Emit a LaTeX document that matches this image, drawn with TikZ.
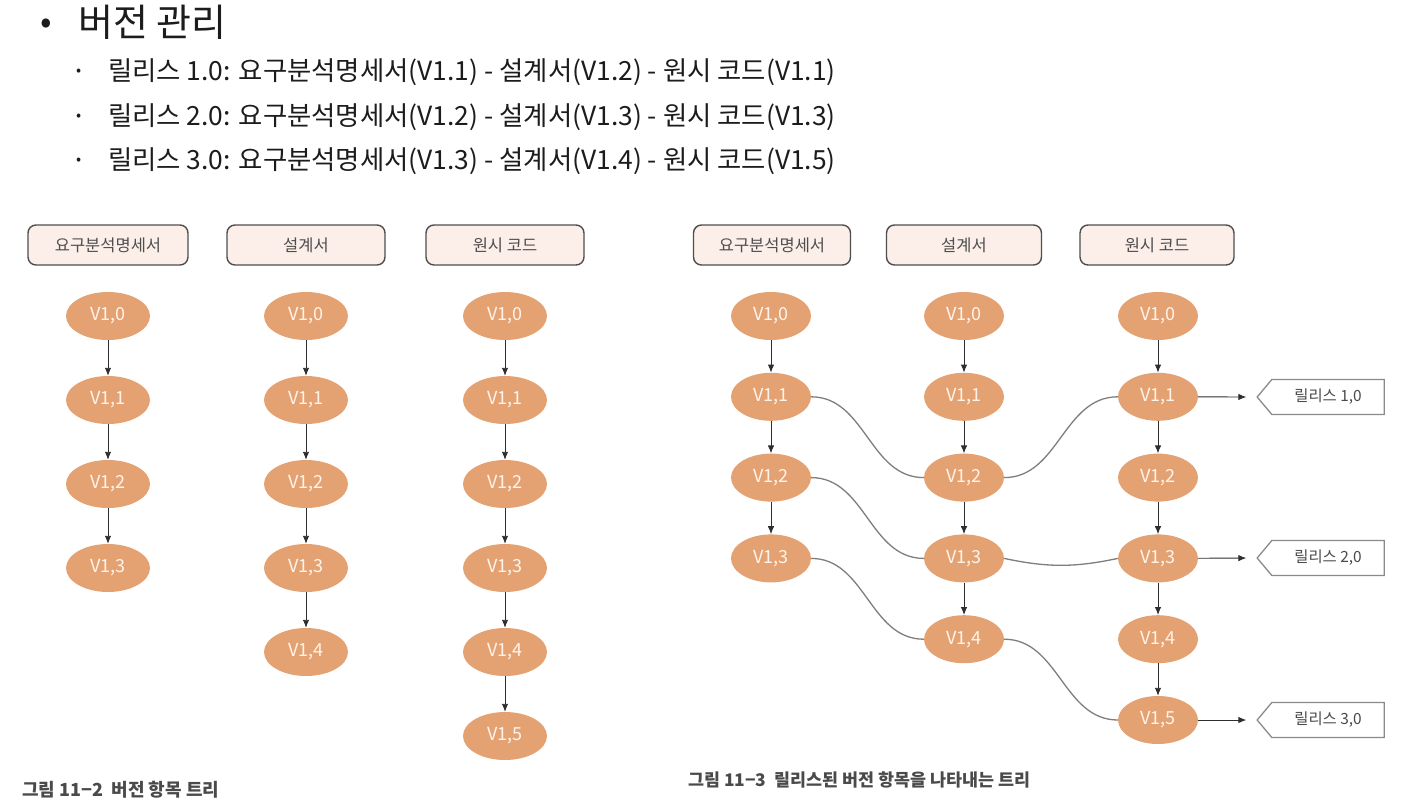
\documentclass[tikz,border=0pt]{standalone}
\usepackage{fontspec}
\setmainfont{Noto Sans CJK KR}
\usetikzlibrary{arrows.meta,shapes.geometric,shapes.symbols}

\definecolor{verfill}{HTML}{E4A272}
\definecolor{vertext}{HTML}{FFF4EC}
\definecolor{hdrfill}{HTML}{FCEFE9}
\definecolor{hdrline}{HTML}{4E4E4E}
\definecolor{linkgray}{HTML}{7E7E7E}
\definecolor{arrowdark}{HTML}{2E2E2E}
\definecolor{tagline}{HTML}{8A8A8A}
\definecolor{bodytext}{HTML}{1C1C1C}
\definecolor{captext}{HTML}{4A4A4A}

\begin{document}
\begin{tikzpicture}[x=1pt,y=-1pt,
  ver/.style={ellipse, fill=verfill, text=vertext, minimum width=84pt,
    minimum height=48pt, inner sep=0pt, font=\fontsize{18}{18}\selectfont},
  rver/.style={ver, minimum width=80pt},
  hdr/.style={draw=hdrline, line width=1.4pt, rounded corners=8pt, fill=hdrfill,
    minimum height=40pt, inner sep=0pt, text=hdrline,
    font=\fontsize{16.5}{16.5}\selectfont},
  down/.style={-{Latex[length=8pt,width=6.5pt]}, draw=arrowdark, line width=0.9pt},
  link/.style={draw=linkgray, line width=1.3pt},
  tagbox/.style={signal, signal to=west, signal pointer angle=100, draw=tagline,
    line width=1.3pt, fill=white, minimum width=127pt, minimum height=35pt,
    inner sep=0pt, text=captext, font=\fontsize{15.4}{15.4}\selectfont},
  bigtext/.style={anchor=west, inner sep=0pt, text=bodytext, font=\fontsize{38}{38}\selectfont},
  subtext/.style={anchor=west, inner sep=0pt, text=bodytext, font=\fontsize{26.4}{26.4}\selectfont},
  dottext/.style={anchor=west, inner sep=0pt, text=bodytext, font=\fontsize{15}{15}\selectfont},
  caption/.style={anchor=west, inner sep=0pt, text=captext, font=\bfseries\fontsize{18}{18}\selectfont}
]
\useasboundingbox (0,0) rectangle (1406,804);

% heading and bullet list
\node[dottext, font=\fontsize{34}{34}\selectfont] (dot0) at (40,26) {•};
\node[bigtext] (title) at (78,22) {버전 관리};
\node[dottext] (dot1) at (76,72) {•};
\node[subtext] (r1) at (108,72) {릴리스 1.0: 요구분석명세서(V1.1) - 설계서(V1.2) - 원시 코드(V1.1)};
\node[dottext] (dot2) at (76,117) {•};
\node[subtext] (r2) at (108,117) {릴리스 2.0: 요구분석명세서(V1.2) - 설계서(V1.3) - 원시 코드(V1.3)};
\node[dottext] (dot3) at (76,161) {•};
\node[subtext] (r3) at (108,161) {릴리스 3.0: 요구분석명세서(V1.3) - 설계서(V1.4) - 원시 코드(V1.5)};

% version trees per item
\node[hdr, minimum width=160pt] (hLa) at (108,245) {요구분석명세서};
\node[hdr, minimum width=158pt] (hLb) at (306,245) {설계서};
\node[hdr, minimum width=158pt] (hLc) at (505,245) {원시 코드};

\foreach \col/\x/\n in {a/108/3, b/306/4, c/505/5} {
  \foreach \i in {0,...,\n} {
    \node[ver] (L\col\i) at (\x,{316+84*\i}) {V1,\i};
  }
  \foreach \i in {1,...,\n} {
    \pgfmathtruncatemacro\prev{\i-1}
    \draw[down] (L\col\prev) -- (L\col\i);
  }
}

\node[caption] (cap1) at (22,790) {그림 11−2\ \ 버전 항목 트리};

% version trees with releases
\node[hdr, minimum width=157pt] (hRa) at (772,245) {요구분석명세서};
\node[hdr, minimum width=155pt] (hRb) at (964,245) {설계서};
\node[hdr, minimum width=154pt] (hRc) at (1157,245) {원시 코드};

\foreach \col/\x/\n in {a/771/3, b/964/4, c/1158/5} {
  \foreach \i in {0,...,\n} {
    \node[rver] (R\col\i) at (\x,{316+80.8*\i}) {V1,\i};
  }
  \foreach \i in {1,...,\n} {
    \pgfmathtruncatemacro\prev{\i-1}
    \draw[down] (R\col\prev) -- (R\col\i);
  }
}

\draw[link] (Ra1.east) to[out=0,in=180] (Rb2.west);
\draw[link] (Ra2.east) to[out=0,in=180] (Rb3.west);
\draw[link] (Ra3.east) to[out=0,in=180] (Rb4.west);
\draw[link] (Rb2.east) to[out=0,in=180] (Rc1.west);
\draw[link] (Rb3.east) to[out=-12,in=192] (Rc3.west);
\draw[link] (Rb4.east) to[out=0,in=180] (Rc5.west);

\node[tagbox] (t1) at (1328,397) {릴리스 1,0};
\node[tagbox] (t2) at (1328,558) {릴리스 2,0};
\node[tagbox] (t3) at (1328,720) {릴리스 3,0};
\draw[down, shorten >=10pt] (Rc1) -- (t1.west);
\draw[down, shorten >=10pt] (Rc3) -- (t2.west);
\draw[down, shorten >=10pt] (Rc5) -- (t3.west);

\node[caption, font=\bfseries\fontsize{17.4}{17.4}\selectfont] (cap2) at (688,780) {그림 11−3\ \ 릴리스된 버전 항목을 나타내는 트리};
\end{tikzpicture}
\end{document}
